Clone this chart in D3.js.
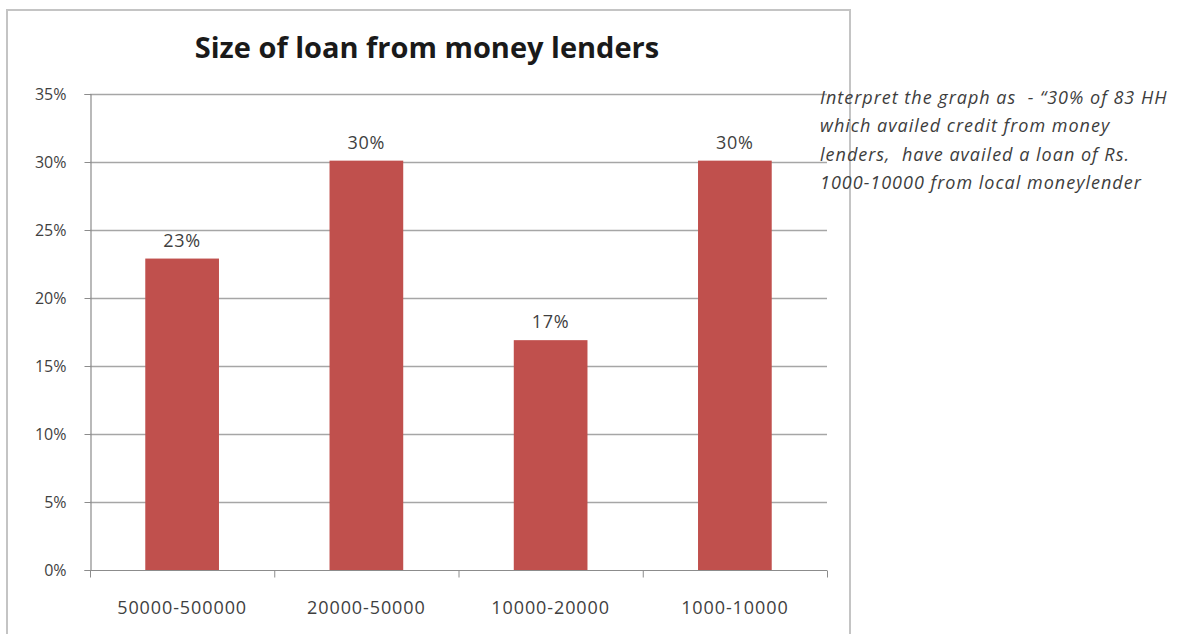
<!DOCTYPE html>
<html>
<head>
<meta charset="utf-8">
<script src="https://cdn.jsdelivr.net/npm/d3@7"></script>
<style>
  html, body { margin: 0; padding: 0; background: #ffffff; }
  svg { display: block; }
</style>
</head>
<body>
<svg id="chart" width="1194" height="634"></svg>
<script>
// Loan size brackets (Rs.) and share of the 83 households borrowing from money lenders
const categories = ["50000-500000", "20000-50000", "10000-20000", "1000-10000"];
const shares = [0.229, 0.301, 0.169, 0.301];
const yTicks = [0, 0.05, 0.10, 0.15, 0.20, 0.25, 0.30, 0.35];
const titleText = "Size of loan from money lenders";
const noteLines = [
  "Interpret the graph as  - \u201C30% of 83 HH",
  "which availed credit from money",
  "lenders,  have availed a loan of Rs.",
  "1000-10000 from local moneylender"
];

const svg = d3.select("#chart");
const plot = { left: 90, right: 827, top: 94, bottom: 570 };
const textColor = "#3f3f3f";
const fontFamily = "'Open Sans', Lato, sans-serif";
const pct = d3.format(".0%");

// Chart frame
svg.append("rect")
  .attr("x", 7).attr("y", 10)
  .attr("width", 843).attr("height", 640)
  .attr("fill", "#ffffff")
  .attr("stroke", "#c4c4c4")
  .attr("stroke-width", 2);

const x = d3.scaleBand()
  .domain(categories)
  .range([plot.left, plot.right])
  .padding(0);

const y = d3.scaleLinear()
  .domain([0, 0.35])
  .range([plot.bottom, plot.top]);

// Horizontal gridlines
svg.append("g")
  .selectAll("line")
  .data(yTicks.filter(d => d > 0))
  .join("line")
  .attr("x1", plot.left).attr("x2", plot.right)
  .attr("y1", d => Math.round(y(d)) + 0.5)
  .attr("y2", d => Math.round(y(d)) + 0.5)
  .attr("stroke", "#a6a6a6")
  .attr("stroke-width", 1.5);

// Y axis
const yAxis = svg.append("g")
  .attr("transform", `translate(${plot.left + 0.5},0)`)
  .call(d3.axisLeft(y).tickValues(yTicks).tickFormat(pct).tickSize(6).tickPadding(18));
yAxis.select(".domain").attr("stroke", "#8c8c8c").attr("stroke-width", 1.2);
yAxis.selectAll(".tick line").attr("stroke", "#8c8c8c");
yAxis.selectAll(".tick text")
  .attr("fill", textColor)
  .style("font-family", fontFamily)
  .style("font-size", "16px");

// X axis with tick marks between categories
const xAxisG = svg.append("g")
  .attr("transform", `translate(0,${plot.bottom + 0.5})`);
xAxisG.append("line")
  .attr("x1", plot.left).attr("x2", plot.right)
  .attr("stroke", "#8c8c8c").attr("stroke-width", 1.2);
const boundaries = categories.map(c => x(c)).concat([x(categories[categories.length - 1]) + x.bandwidth()]);
xAxisG.selectAll("line.tk")
  .data(boundaries)
  .join("line")
  .attr("class", "tk")
  .attr("x1", d => d + 0.5).attr("x2", d => d + 0.5)
  .attr("y1", 0).attr("y2", 7)
  .attr("stroke", "#8c8c8c");
xAxisG.selectAll("text")
  .data(categories)
  .join("text")
  .attr("x", d => x(d) + x.bandwidth() / 2)
  .attr("y", 43)
  .attr("text-anchor", "middle")
  .attr("fill", textColor)
  .style("font-family", fontFamily)
  .style("font-size", "18px")
  .style("letter-spacing", "0.9px")
  .text(d => d);

// Bars
const barW = x.bandwidth() * 0.4;
const rows = categories.map((c, i) => ({ c, v: shares[i] }));
svg.append("g")
  .selectAll("rect")
  .data(rows)
  .join("rect")
  .attr("x", d => x(d.c) + (x.bandwidth() - barW) / 2)
  .attr("y", d => y(d.v))
  .attr("width", barW)
  .attr("height", d => y(0) - y(d.v))
  .attr("fill", "#c0504d");

// Value labels
svg.append("g")
  .selectAll("text")
  .data(rows)
  .join("text")
  .attr("x", d => x(d.c) + x.bandwidth() / 2)
  .attr("y", d => y(d.v) - 12)
  .attr("text-anchor", "middle")
  .attr("fill", textColor)
  .style("font-family", fontFamily)
  .style("font-size", "18px")
  .style("letter-spacing", "0.8px")
  .text(d => pct(d.v));

// Title
svg.append("text")
  .attr("x", 427).attr("y", 58)
  .attr("text-anchor", "middle")
  .attr("fill", "#1a1a1a")
  .style("font-family", fontFamily)
  .style("font-weight", "bold")
  .style("font-size", "29px")
  .text(titleText);

// Side note
svg.append("g")
  .selectAll("text")
  .data(noteLines)
  .join("text")
  .attr("x", 820)
  .attr("y", (d, i) => 104 + i * 28.3)
  .attr("fill", "#3d3d3d")
  .style("font-family", fontFamily)
  .style("font-style", "italic")
  .style("font-size", "18px")
  .style("letter-spacing", "1px")
  .style("white-space", "pre")
  .text(d => d);
</script>
</body>
</html>
